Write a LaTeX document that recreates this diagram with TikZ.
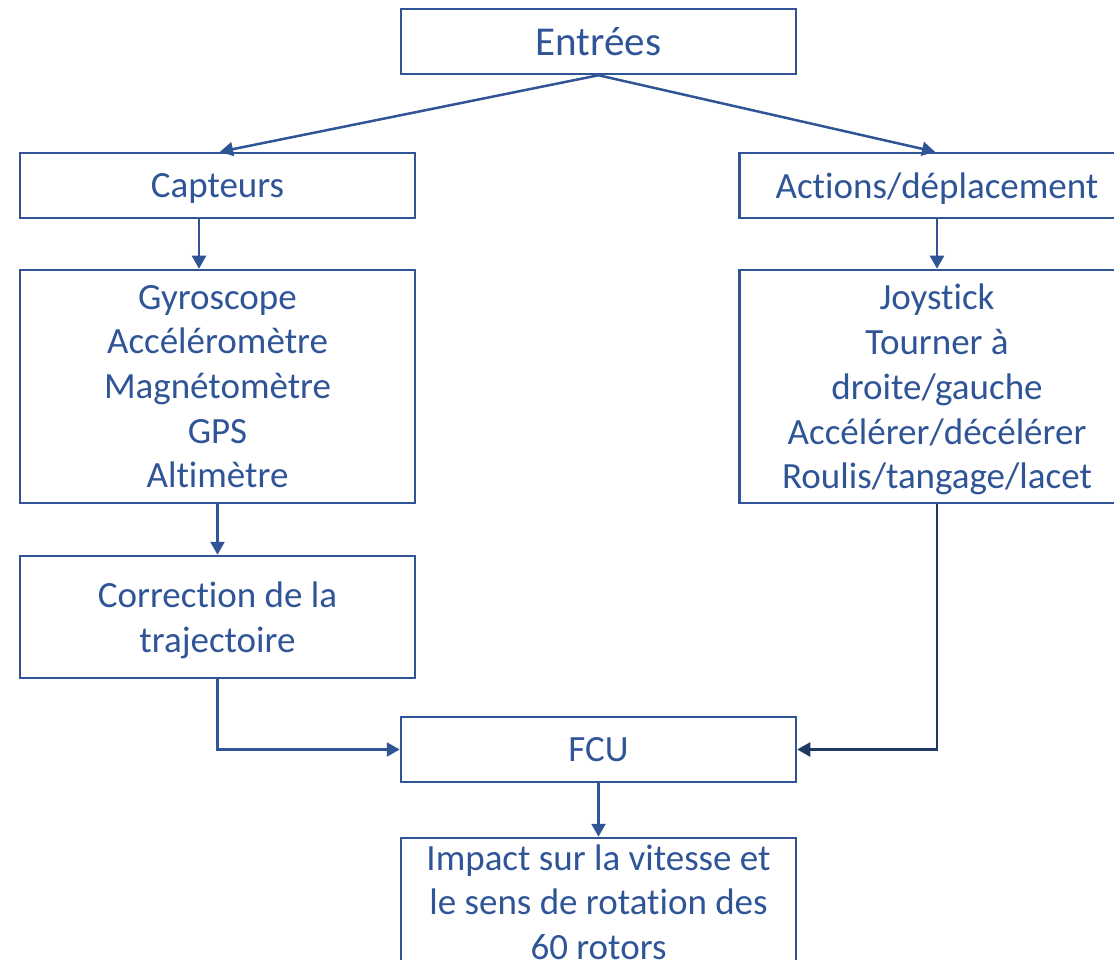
\documentclass[tikz,border=0pt]{standalone}
\usepackage{fontspec}
\setmainfont{Carlito}[Ligatures=NoCommon]
\usetikzlibrary{arrows.meta}
\definecolor{boxblue}{HTML}{2F5597}
\definecolor{navy}{HTML}{203864}
\begin{document}
\begin{tikzpicture}[x=1pt,y=-1pt,
  blk/.style={draw=boxblue,line width=2.5pt,rectangle,inner sep=0pt,
    minimum width=395pt,text=boxblue,align=center,text depth=0pt,
    font=\fontsize{37}{44.7}\selectfont},
  link/.style={draw=boxblue,line width=2.5pt,
    -{Triangle[length=13pt,width=14pt]}},
  darklink/.style={link,draw=navy,-{Triangle[length=13pt,width=14pt,color=navy]}}]
\useasboundingbox (0,0) rectangle (1114,960);

\node[blk,minimum height=65pt,font=\fontsize{41}{48}\selectfont] (entrees) at (598.5,41.5) {Entrées};
\node[blk,minimum height=65pt] (capteurs) at (217.5,185.5) {Capteurs};
\node[blk,minimum height=65pt] (actions) at (937,185.5) {Actions/déplacement};
\node[blk,minimum height=233pt] (gyro) at (217.5,386.5)
  {Gyroscope\\Accéléromètre\\Magnétomètre\\GPS\\Altimètre};
\node[blk,minimum height=233pt] (joy) at (937,386.5)
  {Joystick\\Tourner à\\droite/gauche\\Accélérer/décélérer\\Roulis/tangage/lacet};
\node[blk,minimum height=122pt] (corr) at (217.5,617)
  {Correction de la\\trajectoire};
\node[blk,minimum height=65pt] (fcu) at (598.5,749.5) {FCU};
\node[blk,minimum height=128pt] (impact) at (598.5,902)
  {Impact sur la vitesse et\\le sens de rotation des\\60 rotors};

\draw[link] (entrees.south) -- ([xshift=2.5pt]capteurs.north);
\draw[link] (entrees.south) -- ([xshift=-2pt]actions.north);
\draw[link] ([xshift=-18.5pt]capteurs.south) -- ([xshift=-18.5pt]gyro.north);
\draw[link] (actions.south) -- (joy.north);
\draw[link] (gyro.south) -- (corr.north);
\draw[link] (corr.south) |- (fcu.west);
\draw[darklink] (joy.south) |- (fcu.east);
\draw[link] (fcu.south) -- (impact.north);
\end{tikzpicture}
\end{document}
